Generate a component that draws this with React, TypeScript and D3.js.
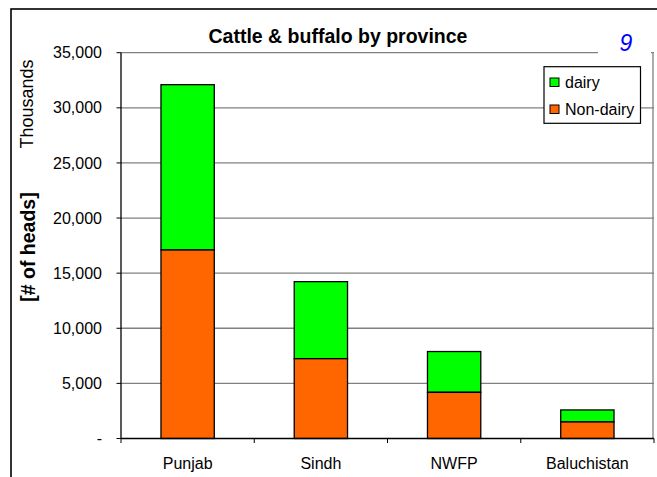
import React from "react";
import * as d3 from "d3";

const provinces = ["Punjab", "Sindh", "NWFP", "Baluchistan"];
const nonDairy = [17100, 7240, 4190, 1500];
const dairy = [15000, 6990, 3700, 1090];
const yTicks = [0, 5000, 10000, 15000, 20000, 25000, 30000, 35000];
const seriesNames = ["dairy", "Non-dairy"];

export default function App() {
  const W = 657, H = 477;
  const left = 121, right = 654, top = 52.7, bottom = 438.5;
  const x = d3.scaleBand<string>().domain(provinces).range([left, right]).paddingInner(0.6).paddingOuter(0.3);
  const y = d3.scaleLinear().domain([0, 35000]).range([bottom, top]);
  const fmt = d3.format(",");
  const edges = d3.range(provinces.length + 1).map((i) => left + i * (right - left) / provinces.length);
  const font = "Arial, 'Liberation Sans', sans-serif";
  const rows = provinces.map((p, i) => ({ p, nd: nonDairy[i], d: dairy[i] }));
  return (
    <svg width={W} height={H} style={{ position: "absolute", left: 0, top: 0, background: "#fff" }} fontFamily={font}>
      <rect x={11} y={9} width={700} height={500} fill="#fff" stroke="#000" strokeWidth={1.6} />
      {yTicks.map((t) => (
        <g key={t}>
          {t > 0 && <line x1={left} x2={right} y1={y(t)} y2={y(t)} stroke="#808080" strokeWidth={1.3} />}
          <line x1={left - 4.5} x2={left} y1={y(t)} y2={y(t)} stroke="#000" strokeWidth={1} />
          <text x={102} y={y(t)} dy="0.35em" textAnchor="end" fontSize={16} fill="#000">{t === 0 ? "-" : fmt(t)}</text>
        </g>
      ))}
      <line x1={right - 1} x2={right - 1} y1={top} y2={bottom} stroke="#808080" strokeWidth={1.3} />
      {rows.map((r) => (
        <g key={r.p}>
          <rect x={x(r.p)} y={y(r.nd + r.d)} width={x.bandwidth()} height={y(r.nd) - y(r.nd + r.d)} fill="#00FF00" stroke="#000" strokeWidth={1.3} />
          <rect x={x(r.p)} y={y(r.nd)} width={x.bandwidth()} height={y(0) - y(r.nd)} fill="#FF6600" stroke="#000" strokeWidth={1.3} />
          <text x={(x(r.p) as number) + x.bandwidth() / 2} y={469} textAnchor="middle" fontSize={16} fill="#000">{r.p}</text>
        </g>
      ))}
      <line x1={left} x2={left} y1={top} y2={bottom} stroke="#000" strokeWidth={1.3} />
      <line x1={left} x2={right} y1={bottom} y2={bottom} stroke="#000" strokeWidth={1.3} />
      {edges.map((e, i) => (
        <line key={i} x1={e} x2={e} y1={bottom} y2={bottom + 4.5} stroke="#000" strokeWidth={1} />
      ))}
      <text x={338} y={43} textAnchor="middle" fontSize={19.5} fontWeight="bold" fill="#000">Cattle &amp; buffalo by province</text>
      <rect x={598} y={20} width={53} height={34} fill="#fff" />
      <text x={626} y={51} textAnchor="middle" fontSize={23} fontStyle="italic" fill="#0000FF">9</text>
      <text transform="translate(33,104) rotate(-90)" textAnchor="middle" fontSize={18} fill="#000">Thousands</text>
      <text transform="translate(35,247) rotate(-90)" textAnchor="middle" fontSize={19.5} fontWeight="bold" fill="#000">[# of heads]</text>
      <rect x={544} y={66.7} width={96.5} height={56.6} fill="#fff" stroke="#000" strokeWidth={1.2} />
      {seriesNames.map((s, i) => (
        <g key={s}>
          <rect x={550} y={78 + i * 27} width={9} height={8.5} fill={i === 0 ? "#00FF00" : "#FF6600"} stroke="#000" strokeWidth={1} />
          <text x={565} y={88 + i * 27} fontSize={16} fill="#000">{s}</text>
        </g>
      ))}
    </svg>
  );
}
